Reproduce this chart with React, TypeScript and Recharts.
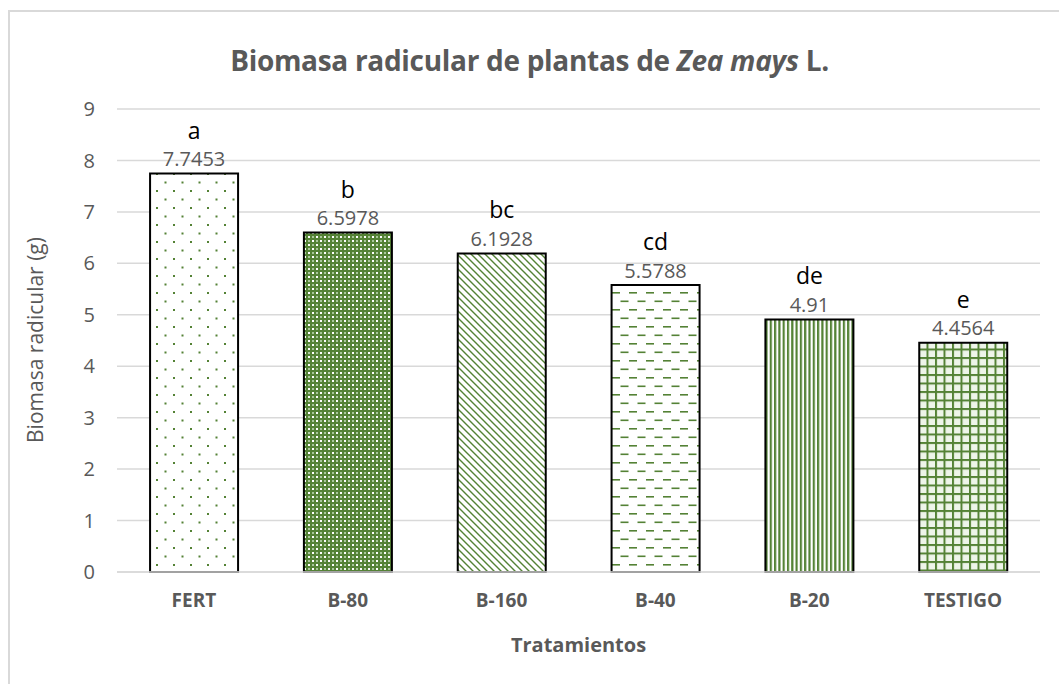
import { BarChart, Bar, XAxis, YAxis, CartesianGrid, Cell, LabelList } from 'recharts';

const treatments = ['FERT', 'B-80', 'B-160', 'B-40', 'B-20', 'TESTIGO'];
const biomass = [7.7453, 6.5978, 6.1928, 5.5788, 4.91, 4.4564];
const groups = ['a', 'b', 'bc', 'cd', 'de', 'e'];
const yTicks = [0, 1, 2, 3, 4, 5, 6, 7, 8, 9];

const data = treatments.map((t, i) => ({ t, v: biomass[i], g: groups[i] }));

const GREEN = '#548235';
const LIGHT = '#a9c79a';
const TEXT = '#595959';
const RULE = '#d9d9d9';
const FONT = '"Open Sans", sans-serif';

function TopLabel(props: any) {
  const { x, y, width, index } = props;
  const cx = x + width / 2;
  return (
    <g>
      <text x={cx} y={y - 44} textAnchor="middle" dominantBaseline="central" fill="#000" fontSize={23} fontFamily={FONT}>
        {groups[index]}
      </text>
      <text x={cx} y={y - 15} textAnchor="middle" dominantBaseline="central" fill={TEXT} fontSize={20} fontFamily={FONT}>
        {String(biomass[index])}
      </text>
    </g>
  );
}

export default function App() {
  return (
    <div style={{ position: 'absolute', left: 0, top: 0, width: 1059, height: 684, background: '#fff', overflow: 'hidden', fontFamily: FONT }}>
      <div style={{ position: 'absolute', left: 8, top: 10, width: 1100, height: 700, borderLeft: `2px solid ${RULE}`, borderTop: `2px solid ${RULE}` }} />
      <div style={{ position: 'absolute', left: 0, width: 1059, top: 41, textAlign: 'center', fontSize: 28, fontWeight: 700, color: TEXT, lineHeight: '38px', letterSpacing: '-0.3px' }}>
        Biomasa radicular de plantas de <i>Zea mays</i> L.
      </div>
      <div style={{ position: 'absolute', left: 35, top: 340, transform: 'translate(-50%, -50%) rotate(-90deg)', whiteSpace: 'nowrap', fontSize: 21, color: TEXT }}>
        Biomasa radicular (g)
      </div>
      <div style={{ position: 'absolute', left: 117, width: 923, top: 630, textAlign: 'center', fontSize: 20, fontWeight: 700, color: TEXT, lineHeight: '30px' }}>
        Tratamientos
      </div>
      <div style={{ position: 'absolute', left: 0, top: 0 }}>
        <BarChart width={1059} height={684} data={data} margin={{ top: 109, right: 19, bottom: 82, left: 57 }} barCategoryGap="21.5%">
          <defs>
            <pattern id="p0" width={17} height={17} patternUnits="userSpaceOnUse">
              <rect width={17} height={17} fill="#fff" />
              <rect x={3} y={3} width={2} height={2} fill={GREEN} />
              <rect x={11.5} y={11.5} width={2} height={2} fill={GREEN} />
            </pattern>
            <pattern id="p1" width={8} height={8} patternUnits="userSpaceOnUse">
              <rect width={8} height={8} fill={GREEN} />
              <rect x={0} y={0} width={2} height={2} fill="#fff" />
              <rect x={4} y={4} width={2} height={2} fill="#fff" />
              <rect x={4} y={0} width={2} height={2} fill={LIGHT} />
              <rect x={0} y={4} width={2} height={2} fill={LIGHT} />
            </pattern>
            <pattern id="p2" width={7} height={7} patternUnits="userSpaceOnUse">
              <rect width={7} height={7} fill="#fff" />
              <path d="M0,0 L7,7 M-1,6 L1,8 M6,-1 L8,1" stroke={GREEN} strokeWidth={1.4} />
            </pattern>
            <pattern id="p3" width={17} height={17} patternUnits="userSpaceOnUse">
              <rect width={17} height={17} fill="#fff" />
              <rect x={0} y={3} width={8} height={1.6} fill={GREEN} />
              <rect x={8.5} y={11.5} width={8} height={1.6} fill={GREEN} />
            </pattern>
            <pattern id="p4" width={4.3} height={10} patternUnits="userSpaceOnUse">
              <rect width={4.3} height={10} fill="#fff" />
              <rect x={0} y={0} width={2.2} height={10} fill={GREEN} />
            </pattern>
            <pattern id="p5" width={8.5} height={8.5} patternUnits="userSpaceOnUse">
              <rect width={8.5} height={8.5} fill="#eef5e9" />
              <rect x={0} y={0} width={2} height={8.5} fill={GREEN} />
              <rect x={0} y={0} width={8.5} height={2} fill={GREEN} />
            </pattern>
          </defs>
          <CartesianGrid vertical={false} stroke={RULE} strokeWidth={1.5} />
          <XAxis dataKey="t" axisLine={{ stroke: RULE, strokeWidth: 1.5 }} tickLine={false} tickSize={0} tickMargin={22}
            tick={{ fill: TEXT, fontSize: 19, fontWeight: 700, fontFamily: FONT }} />
          <YAxis domain={[0, 9]} ticks={yTicks} axisLine={false} tickLine={false} tickSize={0} tickMargin={22} width={60}
            tick={{ fill: TEXT, fontSize: 20, fontFamily: FONT }} />
          <Bar dataKey="v" stroke="#000" strokeWidth={2} isAnimationActive={false}>
            {data.map((_, i) => (
              <Cell key={i} fill={`url(#p${i})`} />
            ))}
            <LabelList dataKey="v" content={TopLabel} />
          </Bar>
        </BarChart>
      </div>
    </div>
  );
}
